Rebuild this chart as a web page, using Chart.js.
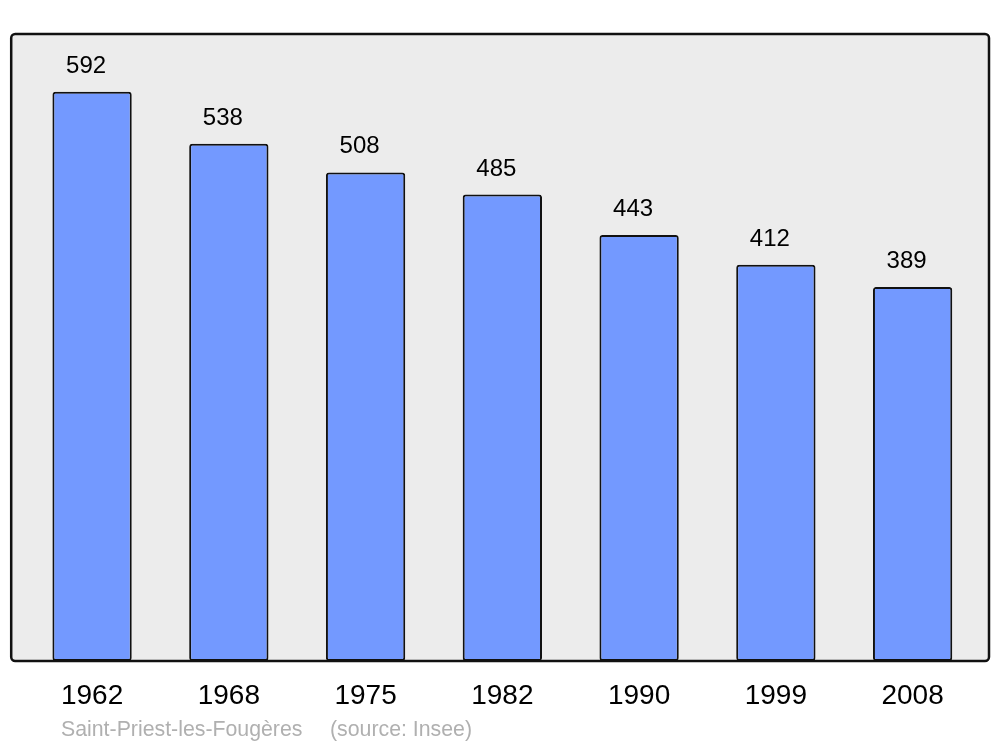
<!DOCTYPE html>
<html lang="fr">
<head>
  <meta charset="UTF-8" />
  <title>Saint-Priest-les-Fougères - population</title>
  <script src="https://cdn.jsdelivr.net/npm/chart.js"></script>
  <style>
    body {
      margin: 0;
      background: #fff;
    }
    #wrap {
      width: 1000px;
      height: 747px;
    }
  </style>
</head>
<body>
  <div id="wrap"><canvas id="popChart" width="1000" height="747"></canvas></div>

  <script>
    const years = ["1962", "1968", "1975", "1982", "1990", "1999", "2008"];
    const population = [592, 538, 508, 485, 443, 412, 389];
    const footerCommune = "Saint-Priest-les-Fougères";
    const footerSource = "(source: Insee)";

    function roundRect(ctx, x, y, w, h, r) {
      ctx.beginPath();
      ctx.moveTo(x + r, y);
      ctx.arcTo(x + w, y, x + w, y + h, r);
      ctx.arcTo(x + w, y + h, x, y + h, r);
      ctx.arcTo(x, y + h, x, y, r);
      ctx.arcTo(x, y, x + w, y, r);
      ctx.closePath();
    }

    // grey panel behind the bars, black frame on top
    const panel = {
      id: "panel",
      beforeDatasetsDraw(chart) {
        const a = chart.chartArea, ctx = chart.ctx;
        ctx.save();
        roundRect(ctx, a.left - 12.5, a.top, a.width + 20.5, a.height, 4);
        ctx.fillStyle = "#ececec";
        ctx.fill();
        ctx.restore();
      },
      afterDatasetsDraw(chart) {
        const a = chart.chartArea, ctx = chart.ctx;
        ctx.save();
        roundRect(ctx, a.left - 12.5, a.top, a.width + 20.5, a.height, 4);
        ctx.lineWidth = 2.5;
        ctx.strokeStyle = "#111";
        ctx.stroke();

        // values above bars
        ctx.fillStyle = "#000";
        ctx.font = "24px 'Liberation Sans', Arial, sans-serif";
        ctx.textAlign = "center";
        ctx.textBaseline = "alphabetic";
        chart.getDatasetMeta(0).data.forEach((bar, i) => {
          ctx.fillText(String(population[i]), bar.x - 6, bar.y - 19);
        });

        // footer
        ctx.fillStyle = "#b0b0b0";
        ctx.font = "21.3px 'Liberation Sans', Arial, sans-serif";
        ctx.textAlign = "left";
        ctx.textBaseline = "middle";
        ctx.fillText(footerCommune, 61, 730);
        ctx.fillText(footerSource, 330, 730);
        ctx.restore();
      }
    };

    new Chart(document.getElementById("popChart"), {
      type: "bar",
      data: {
        labels: years,
        datasets: [{
          data: population,
          backgroundColor: "#7399ff",
          borderColor: "#111",
          borderWidth: 2,
          borderRadius: 3,
          borderSkipped: false,
          categoryPercentage: 1,
          barPercentage: 0.58
        }]
      },
      plugins: [panel],
      options: {
        responsive: false,
        animation: false,
        layout: {
          padding: { left: 23.7, right: 19, top: 34, bottom: 16.4 }
        },
        plugins: {
          legend: { display: false },
          tooltip: { enabled: false }
        },
        scales: {
          x: {
            grid: { display: false, drawTicks: false },
            border: { display: false },
            ticks: {
              color: "#000",
              padding: 18,
              font: { family: "'Liberation Sans', Arial, sans-serif", size: 28 }
            }
          },
          y: {
            display: false,
            min: 0,
            max: 652
          }
        }
      }
    });
  </script>
</body>
</html>
